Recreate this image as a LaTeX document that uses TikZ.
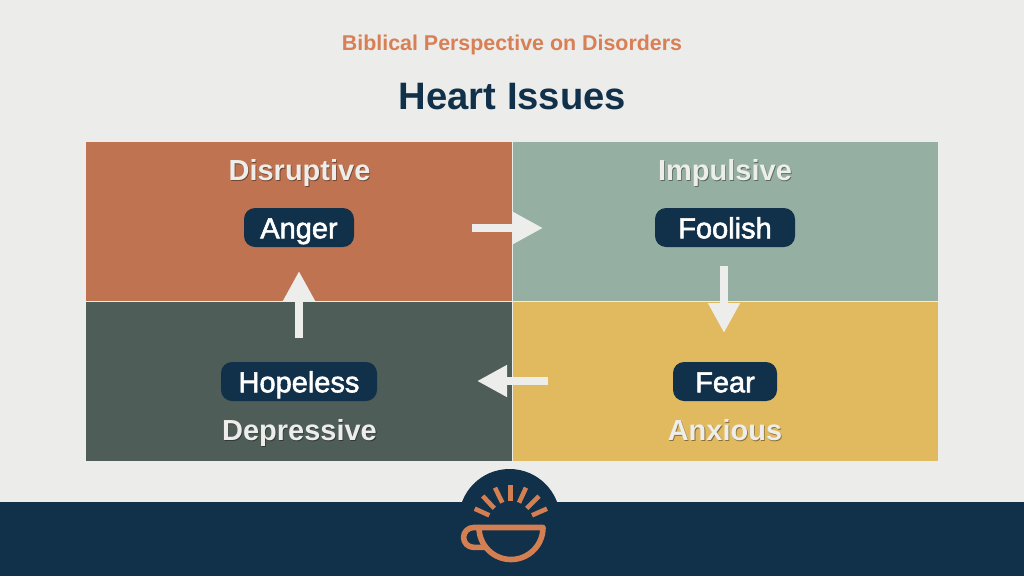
\documentclass[tikz,border=0pt]{standalone}
\usepackage{fontspec}
\setmainfont{Liberation Sans}
\newfontfamily\medfont[RawFeature={embolden=2}]{Liberation Sans}
\usetikzlibrary{arrows.meta}
\definecolor{bgc}{HTML}{ECECEA}
\definecolor{navy}{HTML}{11304A}
\definecolor{orangep}{HTML}{BF7350}
\definecolor{sagep}{HTML}{95B0A2}
\definecolor{darkp}{HTML}{4E5D58}
\definecolor{yellowp}{HTML}{E1BA60}
\definecolor{logoc}{HTML}{D47F52}
\definecolor{subc}{HTML}{D87F55}
\definecolor{lightc}{HTML}{EDEDEB}
\newcommand{\shtext}[2]{\leavevmode\rlap{\kern0.8pt\raisebox{-1.2pt}{\textcolor{#1}{#2}}}#2}
\tikzset{
  x=1pt,y=-1pt,
  head/.style={text=lightc,font=\bfseries\fontsize{29}{31}\selectfont,inner sep=0pt,anchor=base},
  pill/.style={fill=navy,rounded corners=11pt,text=white,font=\medfont\fontsize{29}{31}\selectfont,inner sep=0pt,minimum height=39pt,text height=21.5pt,text depth=0pt,minimum width=#1,anchor=center},
  flow/.style={draw=lightc,line width=8pt,-{Triangle[length=30pt,width=30pt,color=lightc]}},
  rayline/.style={draw=logoc,line width=4.6pt},
  cupline/.style={draw=logoc,line width=5.6pt,line join=round},
}
\begin{document}
\begin{tikzpicture}
\useasboundingbox (0,0) rectangle (1024,576);
\fill[bgc] (0,0) rectangle (1024,576);
% banner
\fill[navy] (0,502) rectangle (1024,576);
\fill[navy] (509.5,519.7) circle[radius=50.7];
% panels
\fill[orangep] (86,142) rectangle (511.5,300.5);
\fill[sagep] (512.5,142) rectangle (938,300.5);
\fill[darkp] (86,301.5) rectangle (511.5,461);
\fill[yellowp] (512.5,301.5) rectangle (938,461);
% titles
\node[text=subc,font=\bfseries\fontsize{21.4}{24}\selectfont,inner sep=0pt,anchor=base] (sub) at (512,50.7) {Biblical Perspective on Disorders};
\node[text=navy,font=\bfseries\fontsize{38.2}{42}\selectfont,inner sep=0pt,anchor=base] (title) at (512.5,109.5) {Heart Issues};
% headings
\node[head] (hd) at (299.5,180) {\shtext{orangep!60!black}{Disruptive}};
\node[head] (hi) at (725,180) {\shtext{sagep!60!black}{Impulsive}};
\node[head] (hde) at (299.5,440) {\shtext{darkp!60!black}{Depressive}};
\node[head] (ha) at (725,440) {\shtext{yellowp!60!black}{Anxious}};
% pills
\node[pill=110pt] (anger) at (299,227.5) {Anger};
\node[pill=140pt] (foolish) at (725,227.5) {Foolish};
\node[pill=156pt] (hopeless) at (299,381.5) {Hopeless};
\node[pill=104pt] (fear) at (725,381.5) {Fear};
% arrows
\coordinate (a1s) at (472,228); \coordinate (a1e) at (543,228);
\coordinate (a2s) at (724,266); \coordinate (a2e) at (724,333);
\coordinate (a3s) at (548,381); \coordinate (a3e) at (477,381);
\coordinate (a4s) at (299,338); \coordinate (a4e) at (299,271);
\draw[flow] (a1s) -- (a1e);
\draw[flow] (a2s) -- (a2e);
\draw[flow] (a3s) -- (a3e);
\draw[flow] (a4s) -- (a4e);
% logo rays
\draw[rayline] (510.3,485) -- (510.3,500.7);
\draw[rayline] (495,487.7) -- (502.3,502.7);
\draw[rayline] (482.7,496) -- (494.3,508.3);
\draw[rayline] (474.7,508.7) -- (489.3,515.3);
\draw[rayline] (526,487.7) -- (519,502.7);
\draw[rayline] (539,496) -- (526.7,508.3);
\draw[rayline] (547,508.7) -- (532,515.3);
% cup
\draw[cupline] (543,527.5) arc[start angle=0,end angle=180,radius=32] -- cycle;
\draw[cupline] (479,527.5) -- (473.5,527.5) arc[start angle=270,end angle=90,radius=9.9] -- (487,547.3);
\end{tikzpicture}
\end{document}
